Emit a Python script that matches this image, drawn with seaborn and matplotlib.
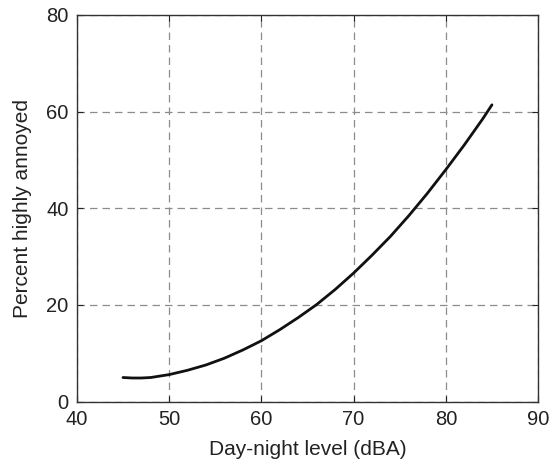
import matplotlib
matplotlib.use("Agg")
import matplotlib.pyplot as plt
import seaborn as sns
import pandas as pd

# values
ldn = [45, 46, 47, 48, 49, 50, 52, 54, 56, 58, 60, 62, 64, 66, 68, 70,
       72, 74, 76, 78, 80, 82, 84, 85]
pct_annoyed = [5.0, 4.9, 4.9, 5.0, 5.3, 5.6, 6.5, 7.6, 9.0, 10.7, 12.6, 14.9,
               17.4, 20.1, 23.2, 26.6, 30.3, 34.2, 38.5, 43.1, 48.0, 53.1,
               58.5, 61.4]

x_ticks = [40, 50, 60, 70, 80, 90]
y_ticks = [0, 20, 40, 60, 80]

df = pd.DataFrame({"Ldn": ldn, "HA": pct_annoyed})

sns.set_style("white")
plt.rcParams['font.family'] = ['Liberation Sans', 'DejaVu Sans']

fig = plt.figure(figsize=(5.53, 4.66), dpi=100)
ax = fig.add_axes([0.139, 0.138, 0.834, 0.830])

sns.lineplot(data=df, x="Ldn", y="HA", ax=ax, color="#111111", linewidth=2.0)

ax.set_xlim(40, 90)
ax.set_ylim(0, 80)
ax.set_xticks(x_ticks)
ax.set_yticks(y_ticks)
ax.grid(True, color="#8c8c8c", linestyle=(0, (6, 4)), linewidth=0.9)
ax.tick_params(direction="in", length=4, labelsize=14.5, colors="#222222",
               top=True, right=True, left=True, bottom=True, pad=6)
for s in ax.spines.values():
    s.set_color("#333333")
    s.set_linewidth(1.0)

ax.set_xlabel("Day-night level (dBA)", fontsize=15, labelpad=8, color="#222222")
ax.set_ylabel("Percent highly annoyed", fontsize=15, labelpad=10, color="#222222")

fig.savefig("out.png", dpi=100)
